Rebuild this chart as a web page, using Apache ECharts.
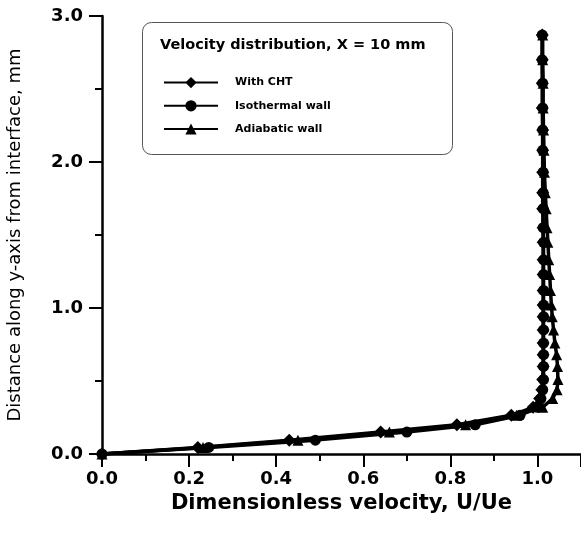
<!DOCTYPE html>
<html>
<head>
<meta charset="utf-8">
<script src="https://cdn.jsdelivr.net/npm/echarts@6/dist/echarts.min.js"></script>
<style>html,body{margin:0;padding:0;background:#fff}#c{width:581px;height:534px}</style>
</head>
<body>
<div id="c"></div>
<script>
// y levels (distance from interface, mm)
var yLevels = [0, 0.045, 0.095, 0.15, 0.20, 0.265, 0.32, 0.38, 0.44, 0.51, 0.60, 0.68, 0.76, 0.85, 0.94, 1.02, 1.12, 1.23, 1.33, 1.45, 1.55, 1.68, 1.79, 1.93, 2.08, 2.22, 2.37, 2.54, 2.70, 2.87];
var withCHT =    [0, 0.220, 0.430, 0.640, 0.815, 0.940, 0.990, 1.005, 1.010, 1.012, 1.013, 1.013, 1.013, 1.013, 1.013, 1.013, 1.013, 1.013, 1.013, 1.013, 1.013, 1.012, 1.012, 1.012, 1.012, 1.012, 1.011, 1.011, 1.011, 1.011];
var isothermal = [0, 0.245, 0.490, 0.700, 0.857, 0.960, 1.000, 1.008, 1.012, 1.014, 1.014, 1.014, 1.014, 1.014, 1.014, 1.014, 1.014, 1.014, 1.014, 1.014, 1.013, 1.013, 1.013, 1.013, 1.012, 1.012, 1.012, 1.012, 1.011, 1.011];
var adiabatic =  [0, 0.232, 0.450, 0.660, 0.835, 0.952, 1.012, 1.035, 1.045, 1.047, 1.046, 1.044, 1.040, 1.037, 1.034, 1.032, 1.030, 1.028, 1.026, 1.024, 1.022, 1.020, 1.018, 1.016, 1.015, 1.014, 1.013, 1.013, 1.012, 1.012];
var seriesNames = ['With CHT', 'Isothermal wall', 'Adiabatic wall'];
var legendTitle = 'Velocity distribution, X = 10 mm';
var xTitle = 'Dimensionless velocity, U/Ue';
var yTitle = 'Distance along y-axis from interface, mm';

function pairs(xs) { return xs.map(function (x, i) { return [x, yLevels[i]]; }); }

var FONT = '"DejaVu Sans", Arial, sans-serif';
var chart = echarts.init(document.getElementById('c'), null, {renderer: 'canvas'});
var axisFont = {color: '#000', fontFamily: FONT, fontWeight: 'bold', fontSize: 18};
var common = {type: 'line', color: '#000', lineStyle: {color: '#000', width: 3.5}, itemStyle: {color: '#000'}, showAllSymbol: true, animation: false};
chart.setOption({
  animation: false,
  grid: {left: 102, top: 16, right: 0, bottom: 80, containLabel: false, outerBoundsMode: 'none'},
  xAxis: {
    type: 'value', min: 0, max: 1.1, interval: 0.2,
    name: xTitle, nameLocation: 'middle', nameGap: 35,
    nameTextStyle: {color: '#000', fontFamily: FONT, fontWeight: 'bold', fontSize: 21},
    axisLine: {show: true, lineStyle: {color: '#000', width: 2.5}},
    axisTick: {show: true, inside: false, length: 13, lineStyle: {color: '#000', width: 2}},
    minorTick: {show: true, splitNumber: 2, length: 7, lineStyle: {color: '#000', width: 2}},
    axisLabel: Object.assign({margin: 16, showMaxLabel: false, formatter: function (v) { return v.toFixed(1); }}, axisFont),
    splitLine: {show: false}
  },
  yAxis: {
    type: 'value', min: 0, max: 3, interval: 1,
    name: yTitle, nameLocation: 'middle', nameGap: 78, nameRotate: 90,
    nameTextStyle: {color: '#000', fontFamily: FONT, fontSize: 18},
    axisLine: {show: true, lineStyle: {color: '#000', width: 2.5}},
    axisTick: {show: true, inside: false, length: 13, lineStyle: {color: '#000', width: 2}},
    minorTick: {show: true, splitNumber: 2, length: 7, lineStyle: {color: '#000', width: 2}},
    axisLabel: Object.assign({margin: 19, formatter: function (v) { return v.toFixed(1); }}, axisFont),
    splitLine: {show: false}
  },
  legend: {
    show: true, orient: 'vertical', left: 158, top: 72, itemWidth: 54, itemHeight: 14, itemGap: 12,
    data: seriesNames,
    textStyle: {color: '#000', fontFamily: FONT, fontWeight: 'bold', fontSize: 11, padding: [0, 0, 0, 12]}
  },
  graphic: [
    {type: 'rect', left: 142, top: 22, z: 0, shape: {width: 310, height: 132, r: 9}, style: {fill: '#fff', stroke: '#555', lineWidth: 1}},
    {type: 'text', left: 160, top: 38, z: 10, style: {text: legendTitle, fill: '#000', font: 'bold 14.5px "DejaVu Sans", Arial, sans-serif'}}
  ],
  series: [
    Object.assign({name: seriesNames[0], symbol: 'diamond', symbolSize: 13, data: pairs(withCHT), z: 3}, common),
    Object.assign({name: seriesNames[1], symbol: 'circle', symbolSize: 11, data: pairs(isothermal), z: 4}, common),
    Object.assign({name: seriesNames[2], symbol: 'triangle', symbolSize: 11, data: pairs(adiabatic), z: 5}, common)
  ]
});
</script>
</body>
</html>
